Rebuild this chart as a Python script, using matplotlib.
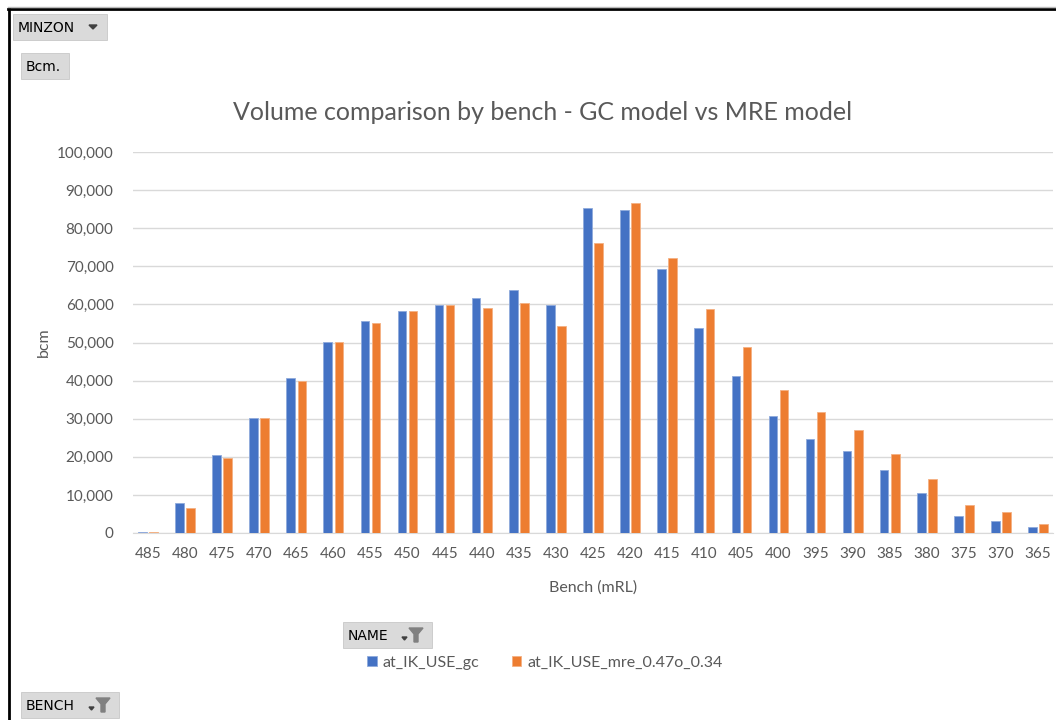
import numpy as np
import matplotlib
matplotlib.use("Agg")
import matplotlib.pyplot as plt
from matplotlib.patches import FancyBboxPatch, Polygon
from matplotlib.lines import Line2D

benches = ["485", "480", "475", "470", "465", "460", "455", "450", "445", "440",
           "435", "430", "425", "420", "415", "410", "405", "400", "395", "390",
           "385", "380", "375", "370", "365"]
gc_bcm = [300, 7900, 20500, 30200, 40700, 50100, 55600, 58300, 59800, 61700,
          63800, 59800, 85300, 84700, 69300, 53700, 41200, 30700, 24700, 21400,
          16500, 10400, 4500, 3100, 1700]
mre_bcm = [300, 6600, 19700, 30200, 39900, 50100, 55100, 58300, 59800, 59100,
           60400, 54300, 76000, 86500, 72100, 58700, 48800, 37500, 31800, 27000,
           20800, 14100, 7400, 5500, 2300]
series_names = ["at_IK_USE_gc", "at_IK_USE_mre_0.47o_0.34"]
title = "Volume comparison by bench - GC model vs MRE model"

BLUE = "#4472C4"
ORANGE = "#ED7D31"
GREY_TXT = "#595959"
GRID = "#D9D9D9"

plt.rcParams["font.family"] = ["Lato", "DejaVu Sans"]

W, H = 1056, 720
fig = plt.figure(figsize=(W / 100, H / 100), dpi=100)
fig.patch.set_facecolor("white")


def px(x, y):
    # pixel position (from top-left) -> figure fraction
    return x / W, 1 - y / H


ax = fig.add_axes([133 / W, 1 - 533 / H, 920 / W, 381 / H])
x = np.arange(len(benches))
bw = 0.23
b1 = ax.bar(x - 0.15, gc_bcm, bw, color=BLUE, edgecolor="#8FAADC", linewidth=0.6, zorder=3)
b2 = ax.bar(x + 0.15, mre_bcm, bw, color=ORANGE, edgecolor="#F4B183", linewidth=0.6, zorder=3)

ax.set_xlim(-0.4, len(benches) - 0.6)
ax.set_ylim(0, 100000)
ax.set_yticks(np.arange(0, 100001, 10000))
ax.set_yticklabels([f"{v:,}" for v in range(0, 100001, 10000)])
ax.set_xticks(x)
ax.set_xticklabels(benches)
ax.tick_params(axis="both", length=0, labelsize=11, colors=GREY_TXT)
ax.tick_params(axis="y", pad=14)
ax.tick_params(axis="x", pad=10)
ax.grid(axis="y", color=GRID, linewidth=1, zorder=0)
for s in ["top", "right", "left"]:
    ax.spines[s].set_visible(False)
ax.spines["bottom"].set_color(GRID)

ax.set_xlabel("Bench (mRL)", fontsize=11.5, color=GREY_TXT, labelpad=14)
ax.set_ylabel("bcm", fontsize=11.5, color=GREY_TXT, labelpad=4)

fig.text(*px(543, 113), title, fontsize=18, color=GREY_TXT, ha="center", va="center")

fig.legend([b1, b2], series_names, loc="center", bbox_to_anchor=px(545, 663),
           ncol=2, frameon=False, fontsize=11.5, handlelength=0.6, handleheight=0.6,
           handletextpad=0.4, columnspacing=2.0, labelcolor=GREY_TXT)


def button(x0, y0, x1, y1, label, arrow=False, funnel=False):
    fx0, fy1 = px(x0, y0)
    fx1, fy0 = px(x1, y1)
    fig.patches.append(FancyBboxPatch((fx0, fy0), fx1 - fx0, fy1 - fy0,
                                      boxstyle="square,pad=0", transform=fig.transFigure,
                                      facecolor="#DADADA", edgecolor="#C8C8C8", linewidth=0.6))
    fig.text(*px(x0 + 5, (y0 + y1) / 2 + 1), label, fontsize=10, family="DejaVu Sans",
             color="black", ha="left", va="center")
    if arrow:
        ax_, ay = x1 - 14, (y0 + y1) / 2
        fig.patches.append(Polygon([px(ax_ - 4, ay - 2), px(ax_ + 4, ay - 2), px(ax_, ay + 2)],
                                   closed=True, transform=fig.transFigure, color="#404040"))
    if funnel:
        cx, cy = x1 - 16, (y0 + y1) / 2
        fig.patches.append(Polygon([px(cx - 7, cy - 7), px(cx + 7, cy - 7), px(cx + 2, cy - 1),
                                    px(cx + 2, cy + 7), px(cx - 2, cy + 7), px(cx - 2, cy - 1)],
                                   closed=True, transform=fig.transFigure, color="#808080"))
        fig.patches.append(Polygon([px(cx - 14, cy + 2), px(cx - 9, cy + 2), px(cx - 11.5, cy + 5)],
                                   closed=True, transform=fig.transFigure, color="#404040"))


button(13, 14, 107, 40, "MINZON", arrow=True)
button(21, 53, 69, 79, "Bcm.")
button(343, 622, 432, 648, "NAME", funnel=True)
button(21, 692, 119, 718, "BENCH", funnel=True)

# outer frame (left and top edges visible)
fig.add_artist(Line2D([px(9, 0)[0], px(9, 0)[0]], [px(0, 8)[1], 0], transform=fig.transFigure,
                      color="black", linewidth=2))
fig.add_artist(Line2D([px(8, 0)[0], 1], [px(0, 8.5)[1], px(0, 8.5)[1]], transform=fig.transFigure,
                      color="black", linewidth=2))
fig.add_artist(Line2D([px(8, 0)[0], 1], [px(0, 7)[1], px(0, 7)[1]], transform=fig.transFigure,
                      color="#BBBBBB", linewidth=1))

fig.savefig("out.png", dpi=100)
